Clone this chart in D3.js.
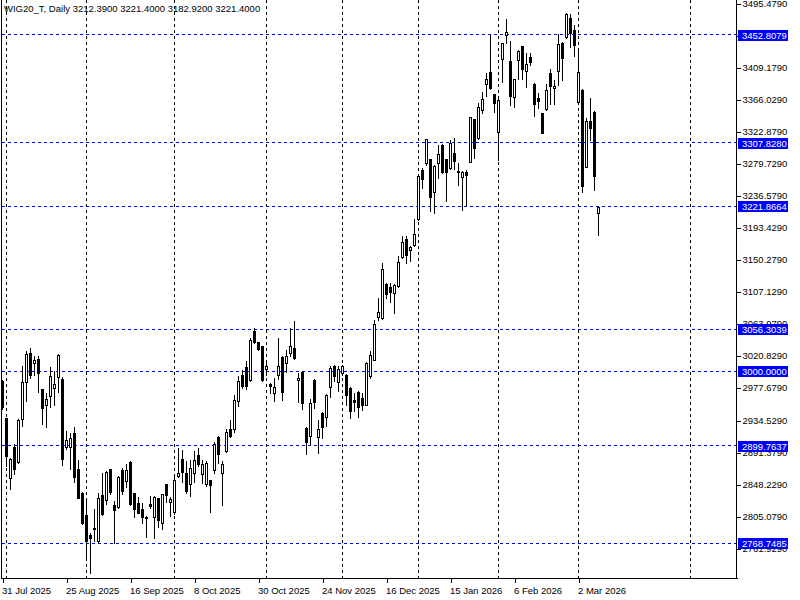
<!DOCTYPE html>
<html><head><meta charset="utf-8">
<script src="https://cdn.jsdelivr.net/npm/d3@7"></script>
<style>
body{margin:0;background:#fff}
svg{display:block}
text{font-family:"Liberation Sans",Arial,sans-serif;font-size:9.5px}
</style>
</head><body>
<svg id="c" width="800" height="600"></svg>
<script>
// ---- data (WIG20_T, Daily) ----
const opens = [2986.7,2937.5,2856.9,2898.0,2877.8,2936.1,2985.8,3024.8,3011.4,3016.7,
2976.4,2954.9,2967.4,2977.2,2992.6,2990.3,2898.5,2898.0,2917.3,2869.0,
2836.7,2806.6,2779.3,2787.4,2771.7,2833.5,2827.3,2868.0,2820.6,2817.9,
2866.7,2852.3,2878.4,2835.8,2822.3,2815.0,2804.5,2821.0,2804.5,2829.0,
2795.5,2847.9,2824.6,2810.6,2859.0,2882.4,2862.6,2848.8,2863.6,2886.8,
2861.3,2848.8,2853.2,2867.1,2911.9,2863.6,2892.6,2921.8,2922.7,2959.8,
2995.7,3006.0,2988.9,3053.8,3039.1,3033.7,3003.3,2983.6,2971.1,2995.7,
3018.9,3011.4,3024.8,3031.5,2988.0,2999.3,2924.0,2912.8,2988.9,2911.9,
2944.2,2938.8,2979.1,3006.8,2985.3,2997.9,2995.7,2977.8,2961.1,2972.4,
2964.4,2955.3,2994.3,3015.8,3073.2,3071.8,3117.9,3113.5,3105.4,3114.3,
3153.8,3178.4,3163.6,3169.4,3205.3,3270.2,3280.1,3285.5,3241.9,3280.1,
3304.7,3285.5,3273.4,3293.5,3269.8,3261.3,3267.5,3282.2,3339.2,3313.7,
3351.7,3386.6,3403.2,3372.8,3322.6,3419.8,3452.5,3417.9,3368.8,3418.9,
3437.7,3404.5,3422.5,3386.6,3367.4,3347.3,3352.6,3401.8,3380.9,3404.5,
3441.7,3449.4,3474.9,3459.2,3362.9,3378.6,3275.5,3336.9,3349.4,3212.39];
const highs = [2988.9,2937.9,2883.0,2901.6,2936.0,3007.7,3027.0,3031.5,3020.2,3021.2,
2976.8,2971.1,3005.5,3000.1,3023.5,2992.6,2919.5,2917.3,2924.8,2880.1,
2837.5,2827.7,2783.0,2815.2,2836.7,2862.6,2865.5,2868.8,2825.4,2859.0,
2870.3,2874.7,2879.0,2836.5,2831.3,2823.0,2805.0,2832.1,2832.0,2829.8,
2835.0,2848.5,2830.8,2860.4,2897.2,2893.9,2879.2,2880.1,2892.6,2897.2,
2881.4,2879.2,2854.0,2904.7,2912.8,2879.2,2921.8,2935.2,2968.8,2993.4,
3002.4,3013.5,3045.0,3058.4,3039.8,3034.5,3013.5,2984.2,2991.6,3045.4,
3020.2,3029.2,3058.4,3067.3,2997.9,3000.0,2925.0,2963.0,2989.5,2935.2,
2945.0,2969.5,3006.8,3009.1,3007.7,3009.1,2996.5,2978.5,2971.1,2973.2,
2971.1,3012.0,3027.0,3069.6,3098.7,3145.7,3118.5,3118.9,3117.0,3155.5,
3181.5,3181.5,3169.0,3204.9,3263.0,3273.4,3313.0,3286.0,3277.0,3304.7,
3305.5,3286.0,3311.4,3313.7,3280.9,3269.5,3271.1,3342.5,3340.0,3361.5,
3376.3,3401.8,3452.5,3373.5,3366.0,3442.1,3473.6,3444.8,3393.5,3432.0,
3438.3,3427.9,3427.9,3387.2,3374.1,3348.0,3386.6,3406.4,3392.0,3453.8,
3442.5,3481.5,3480.7,3465.9,3432.3,3379.3,3340.6,3367.4,3350.0,3221.40];
const lows = [2950.0,2872.4,2841.1,2861.3,2876.1,2926.2,2959.8,2991.2,2995.7,2971.9,
2929.4,2924.8,2952.3,2955.3,2971.9,2873.8,2895.8,2868.0,2851.5,2829.0,
2794.1,2749.4,2729.2,2771.7,2769.5,2806.5,2821.0,2834.4,2769.5,2816.6,
2835.4,2844.8,2819.6,2804.5,2809.0,2795.5,2777.0,2815.6,2775.3,2791.0,
2787.4,2824.1,2805.3,2807.6,2858.0,2850.9,2836.7,2832.1,2850.9,2872.4,
2850.1,2845.6,2810.6,2863.6,2877.0,2820.0,2892.0,2912.0,2918.1,2953.1,
2978.2,2976.4,2986.7,3038.2,3028.3,2987.0,2995.7,2971.1,2959.8,2989.9,
2961.1,2998.7,3020.2,3017.0,2958.4,2950.0,2888.2,2900.3,2950.9,2889.5,
2910.6,2926.2,2965.7,2986.7,2973.2,2995.7,2955.3,2937.5,2946.3,2938.8,
2948.6,2954.5,2991.2,3015.0,3069.6,3071.0,3098.7,3092.8,3078.6,3113.5,
3153.0,3145.7,3147.9,3168.8,3203.9,3246.5,3277.0,3215.1,3212.9,3259.9,
3266.7,3228.5,3272.5,3272.0,3250.9,3216.4,3222.7,3281.5,3286.8,3313.0,
3347.3,3370.5,3380.0,3349.4,3284.5,3389.7,3441.3,3358.4,3356.1,3393.0,
3393.0,3382.2,3412.2,3343.6,3354.0,3320.5,3352.0,3359.8,3359.8,3385.3,
3392.0,3448.5,3436.0,3424.3,3362.0,3241.9,3275.0,3311.4,3244.2,3182.92];
const closes = [2952.3,2885.9,2882.4,2868.0,2935.2,2985.8,3023.5,2994.7,3014.9,2997.9,
2950.9,2963.0,2994.3,2983.6,3022.5,2882.4,2908.3,2909.7,2858.2,2830.0,
2796.4,2771.7,2775.7,2789.7,2830.0,2807.6,2864.9,2837.4,2813.3,2858.2,
2838.9,2867.1,2821.0,2815.2,2809.8,2804.5,2802.6,2818.7,2831.3,2799.5,
2834.4,2833.5,2828.6,2853.2,2863.6,2864.4,2838.4,2870.3,2880.1,2875.7,
2874.7,2877.0,2846.5,2902.5,2889.1,2874.7,2918.7,2912.8,2961.1,2986.7,
2980.9,2980.9,3042.7,3039.1,3030.2,2988.0,3007.7,2979.9,2979.1,3007.7,
2971.9,3020.2,3034.6,3018.1,2991.2,2957.6,2904.7,2957.6,2958.4,2922.7,
2925.4,2968.8,3004.7,2994.3,3003.3,3007.7,2968.8,2946.3,2958.4,2952.3,
2954.4,3011.4,3022.5,3064.2,3079.9,3137.7,3104.1,3106.2,3116.2,3147.1,
3174.0,3155.9,3167.2,3184.7,3262.1,3258.6,3312.3,3234.4,3276.5,3292.6,
3268.8,3268.8,3307.0,3283.6,3267.5,3268.8,3264.4,3341.9,3300.3,3356.1,
3366.1,3393.0,3380.9,3360.7,3365.1,3441.3,3456.9,3370.5,3393.0,3431.4,
3406.4,3413.5,3416.6,3359.8,3364.2,3321.2,3378.6,3384.0,3384.0,3440.4,
3421.6,3480.7,3455.2,3439.0,3403.2,3248.7,3336.9,3327.1,3262.1,3221.40];

const dateTickIndex  = [0,16,32,48,64,80,96,112,128,144];
const dateTickLabels = ["31 Jul 2025","25 Aug 2025","16 Sep 2025","8 Oct 2025","30 Oct 2025",
                        "24 Nov 2025","16 Dec 2025","15 Jan 2026","6 Feb 2026","2 Mar 2026"];
const monthStartIndex = [1,21,43,66,85,104,124,144,172];
const priceTicks = [3495.479,3452.329,3409.179,3366.029,3322.879,3279.729,3236.579,3193.429,3150.279,
                    3107.129,3063.979,3020.829,2977.679,2934.529,2891.379,2848.229,2805.079,2761.929];
const levels = [3452.8079,3307.8280,3221.8664,3056.3039,3000.0000,2899.7637,2768.7485];
const header = "WIG20_T, Daily  3212.3900 3221.4000 3182.9200 3221.4000";

// ---- layout ----
const W = 800, H = 600, plotR = 737, plotB = 578;
const svg = d3.select("#c");
svg.append("rect").attr("width", W).attr("height", H).attr("fill", "#fff");

const x = d3.scaleLinear().domain([0, 149]).range([2.5, 598.5]);
const y = d3.scaleLinear().domain([2722.0, 3499.52]).range([plotB, 0]);
const px = v => Math.floor(v) + 0.5;

// vertical month grid
svg.append("g").selectAll("line").data(monthStartIndex).join("line")
  .attr("x1", d => px(x(d))).attr("x2", d => px(x(d)))
  .attr("y1", 0).attr("y2", plotB)
  .attr("stroke", "#000").attr("stroke-dasharray", "3,3").attr("shape-rendering", "crispEdges");

// horizontal levels
svg.append("g").selectAll("line").data(levels).join("line")
  .attr("x1", 2).attr("x2", plotR + 4)
  .attr("y1", d => px(y(d))).attr("y2", d => px(y(d)))
  .attr("stroke", "#0000ff").attr("stroke-dasharray", "3,3").attr("shape-rendering", "crispEdges");

// candles
const candles = svg.append("g").attr("shape-rendering", "crispEdges");
opens.forEach((o, i) => {
  const c = closes[i], h = highs[i], l = lows[i];
  const cx = Math.floor(x(i));
  candles.append("line")
    .attr("x1", cx + 0.5).attr("x2", cx + 0.5)
    .attr("y1", Math.round(y(h))).attr("y2", Math.round(y(l)) + 1)
    .attr("stroke", "#000");
  const top = Math.round(y(Math.max(o, c))), bot = Math.round(y(Math.min(o, c)));
  if (bot - top < 1) {
    candles.append("line").attr("x1", cx - 1).attr("x2", cx + 2)
      .attr("y1", top + 0.5).attr("y2", top + 0.5).attr("stroke", "#000");
  } else if (c < o) {
    candles.append("rect").attr("x", cx - 1).attr("y", top)
      .attr("width", 3).attr("height", bot - top + 1).attr("fill", "#000");
  } else {
    candles.append("rect").attr("x", cx - 0.5).attr("y", top + 0.5)
      .attr("width", 2).attr("height", bot - top)
      .attr("fill", "#fff").attr("stroke", "#000");
  }
});

// frame
const frame = svg.append("g").attr("shape-rendering", "crispEdges").attr("stroke", "#000");
frame.append("line").attr("x1", 1.5).attr("x2", 1.5).attr("y1", 0).attr("y2", plotB + 1);
frame.append("line").attr("x1", 1).attr("x2", plotR + 1).attr("y1", plotB + 0.5).attr("y2", plotB + 0.5);
frame.append("line").attr("x1", plotR - 0.5).attr("x2", plotR - 0.5).attr("y1", 0).attr("y2", plotB + 1);

// right price axis
const yAxis = d3.axisRight(y).tickValues(priceTicks).tickFormat(d3.format(".4f"))
  .tickSize(4).tickPadding(2);
const ga = svg.append("g").attr("transform", `translate(${plotR - 0.5},0)`).call(yAxis);
ga.select(".domain").remove();
ga.selectAll(".tick line").attr("stroke", "#000").attr("shape-rendering", "crispEdges")
  .attr("transform", "translate(0,0.5)");
ga.selectAll(".tick text").attr("fill", "#000").attr("font-size", "9.5px")
  .attr("font-family", '"Liberation Sans",Arial,sans-serif');

// bottom date axis
const xAxis = d3.axisBottom(x).tickValues(dateTickIndex)
  .tickFormat((d, i) => dateTickLabels[i]).tickSize(5).tickPadding(4);
const gx = svg.append("g").attr("transform", `translate(0,${plotB})`).call(xAxis);
gx.select(".domain").remove();
gx.selectAll(".tick line").attr("stroke", "#000").attr("shape-rendering", "crispEdges")
  .attr("transform", "translate(0.5,0)");
gx.selectAll(".tick text").attr("fill", "#000").attr("text-anchor", "start").attr("dx", "-1")
  .attr("font-size", "9.5px").attr("font-family", '"Liberation Sans",Arial,sans-serif');

// level labels on the price axis
const lab = svg.append("g").selectAll("g").data(levels).join("g")
  .attr("transform", d => `translate(${plotR + 1},${Math.round(y(d))})`);
lab.append("rect").attr("x", 0).attr("y", -5).attr("width", 50).attr("height", 11)
  .attr("fill", "#0000ff").attr("shape-rendering", "crispEdges");
lab.append("text").attr("x", 4).attr("y", 0.5).attr("dy", "0.32em")
  .attr("fill", "#fff").text(d => d3.format(".4f")(d));

// header
svg.append("text").attr("x", 4).attr("y", 12).attr("fill", "#000").text(header);
</script>
</body></html>
